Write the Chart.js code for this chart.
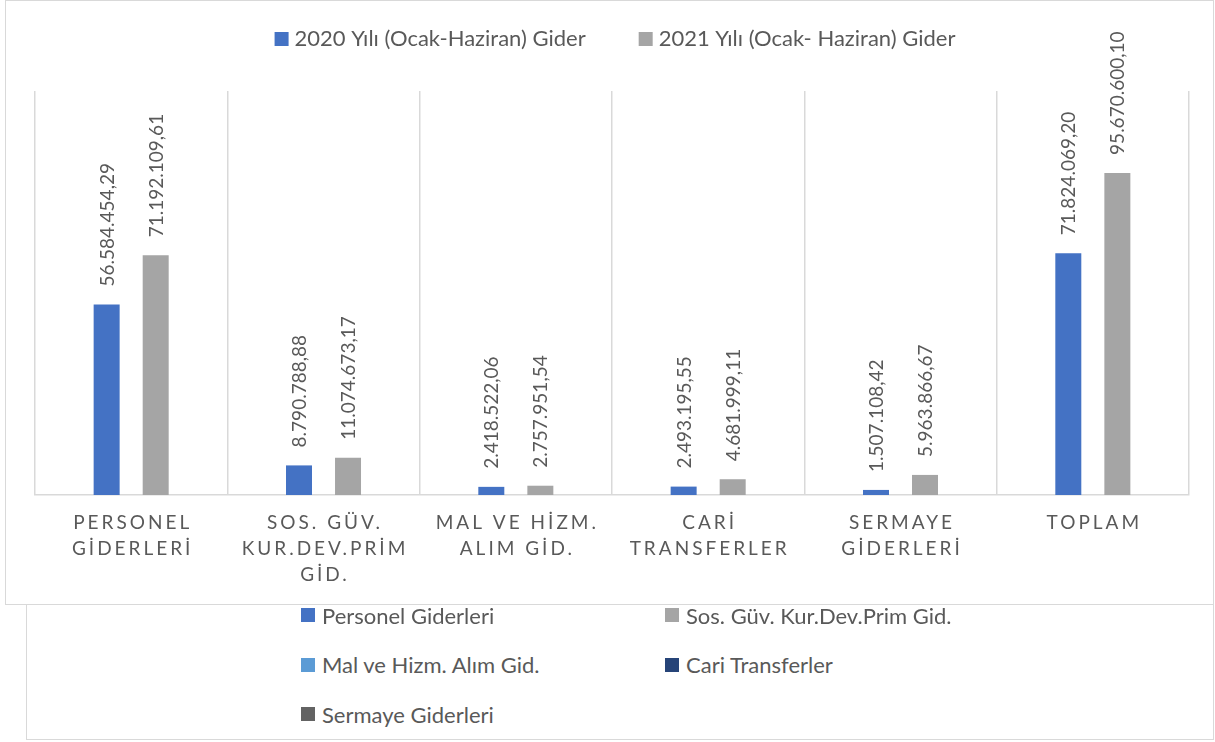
<!DOCTYPE html>
<html lang="tr">
<head>
    <meta charset="UTF-8">
    <title>2020 - 2021 Ocak-Haziran Giderleri</title>
    <script src="https://cdn.jsdelivr.net/npm/chart.js"></script>
    <style>
        body {
            margin: 0;
            background: #fff;
            font-family: Lato, sans-serif;
        }

        /* grafiğin çerçevesi */
        .chart-box {
            position: absolute;
            left: 5px;
            top: 0;
            width: 1207px;
            height: 603px;
            border: 1px solid #d9d9d9;
        }

        .chart-box canvas {
            display: block;
        }

        /* alttaki açıklama kutusu */
        .legend-box {
            position: absolute;
            left: 26px;
            top: 605px;
            width: 1186px;
            height: 134px;
            border: 1px solid #d9d9d9;
            border-top: none;
        }

        .legend-item {
            position: absolute;
            height: 24px;
            display: flex;
            align-items: center;
            font-size: 22px;
            color: #595959;
            white-space: nowrap;
        }

        .legend-item i {
            display: inline-block;
            width: 14px;
            height: 14px;
            margin-right: 7px;
        }
    </style>
</head>
<body>
<div class="chart-box">
    <canvas id="giderChart" width="1207" height="603"></canvas>
</div>
<div class="legend-box" id="legendBox"></div>

<script>
    // veriler
    const categories = ['Personel Giderleri', 'Sos. Güv. Kur.Dev.Prim Gid.', 'Mal ve Hizm. Alım Gid.',
        'Cari Transferler', 'Sermaye Giderleri', 'Toplam'];
    const tickLines = [
        ['PERSONEL', 'GİDERLERİ'],
        ['SOS. GÜV.', 'KUR.DEV.PRİM', 'GİD.'],
        ['MAL VE HİZM.', 'ALIM GİD.'],
        ['CARİ', 'TRANSFERLER'],
        ['SERMAYE', 'GİDERLERİ'],
        ['TOPLAM']
    ];
    const seriesNames = ['2020 Yılı (Ocak-Haziran) Gider', '2021 Yılı (Ocak- Haziran) Gider'];
    const values2020 = [56584454.29, 8790788.88, 2418522.06, 2493195.55, 1507108.42, 71824069.20];
    const values2021 = [71192109.61, 11074673.17, 2757951.54, 4681999.11, 5963866.67, 95670600.10];
    const legendNames = ['Personel Giderleri', 'Sos. Güv. Kur.Dev.Prim Gid.', 'Mal ve Hizm. Alım Gid.',
        'Cari Transferler', 'Sermaye Giderleri'];

    const seriesColors = ['#4472C4', '#A5A5A5'];
    const legendColors = ['#4472C4', '#A5A5A5', '#5B9BD5', '#264478', '#636363'];
    const textColor = '#595959';

    Chart.defaults.font.family = 'Lato, sans-serif';

    // 56584454.29 -> 56.584.454,29
    function trFormat(v) {
        const parts = v.toFixed(2).split('.');
        return parts[0].replace(/\B(?=(\d{3})+(?!\d))/g, '.') + ',' + parts[1];
    }

    // üstteki seri açıklaması
    const topLegend = {
        id: 'topLegend',
        afterDraw(chart) {
            const ctx = chart.ctx;
            const area = chart.chartArea;
            ctx.save();
            ctx.font = '22px Lato, sans-serif';
            ctx.textBaseline = 'middle';
            ctx.textAlign = 'left';
            const box = 14, gap = 6, between = 53;
            const widths = seriesNames.map(n => ctx.measureText(n).width);
            let total = between * (seriesNames.length - 1);
            widths.forEach(w => total += box + gap + w);
            let x = (area.left + area.right) / 2 + 3 - total / 2;
            seriesNames.forEach((name, i) => {
                ctx.fillStyle = seriesColors[i];
                ctx.fillRect(x, 31, box, box);
                ctx.fillStyle = textColor;
                ctx.fillText(name, x + box + gap, 38);
                x += box + gap + widths[i] + between;
            });
            ctx.restore();
        }
    };

    // çubuk üstündeki dikey değer etiketleri
    const valueLabels = {
        id: 'valueLabels',
        afterDatasetsDraw(chart) {
            const ctx = chart.ctx;
            ctx.save();
            ctx.font = '19px Lato, sans-serif';
            ctx.fillStyle = textColor;
            ctx.textAlign = 'left';
            ctx.textBaseline = 'middle';
            chart.data.datasets.forEach((ds, di) => {
                chart.getDatasetMeta(di).data.forEach((bar, i) => {
                    ctx.save();
                    ctx.translate(bar.x + 1, bar.y - 18);
                    ctx.rotate(-Math.PI / 2);
                    ctx.fillText(trFormat(ds.data[i]), 0, 0);
                    ctx.restore();
                });
            });
            ctx.restore();
        }
    };

    // aralıklı harflerle kategori etiketleri
    const categoryLabels = {
        id: 'categoryLabels',
        afterDraw(chart) {
            const ctx = chart.ctx;
            const xScale = chart.scales.x;
            const spacing = 3;
            ctx.save();
            ctx.font = '19px Lato, sans-serif';
            ctx.letterSpacing = spacing + 'px';
            ctx.fillStyle = textColor;
            ctx.textAlign = 'center';
            ctx.textBaseline = 'middle';
            tickLines.forEach((lines, i) => {
                const x = xScale.getPixelForValue(i) + spacing / 2;
                lines.forEach((line, j) => {
                    ctx.fillText(line, x, chart.chartArea.bottom + 28 + j * 26);
                });
            });
            ctx.restore();
        }
    };

    new Chart(document.getElementById('giderChart'), {
        type: 'bar',
        data: {
            labels: categories,
            datasets: [{
                label: seriesNames[0],
                data: values2020,
                backgroundColor: seriesColors[0],
                categoryPercentage: 0.51,
                barPercentage: 0.53
            }, {
                label: seriesNames[1],
                data: values2021,
                backgroundColor: seriesColors[1],
                categoryPercentage: 0.51,
                barPercentage: 0.53
            }]
        },
        options: {
            responsive: false,
            animation: false,
            layout: {
                padding: {left: 29, right: 24, top: 90, bottom: 109}
            },
            plugins: {
                legend: {display: false},
                tooltip: {enabled: false}
            },
            scales: {
                x: {
                    ticks: {display: false},
                    grid: {
                        color: '#d9d9d9',
                        lineWidth: 1.5,
                        offset: true,
                        drawTicks: false
                    },
                    border: {color: '#d9d9d9', width: 1.5}
                },
                y: {
                    display: false,
                    min: 0,
                    max: 120000000
                }
            }
        },
        plugins: [topLegend, valueLabels, categoryLabels]
    });

    // alt açıklama kutusu (iki sütun)
    const legendBox = document.getElementById('legendBox');
    legendNames.forEach((name, i) => {
        const item = document.createElement('div');
        item.className = 'legend-item';
        item.style.left = (i % 2 === 0 ? 274 : 638) + 'px';
        item.style.top = (-2 + Math.floor(i / 2) * 49.5) + 'px';
        const sw = document.createElement('i');
        sw.style.background = legendColors[i];
        item.appendChild(sw);
        item.appendChild(document.createTextNode(name));
        legendBox.appendChild(item);
    });
</script>
</body>
</html>
